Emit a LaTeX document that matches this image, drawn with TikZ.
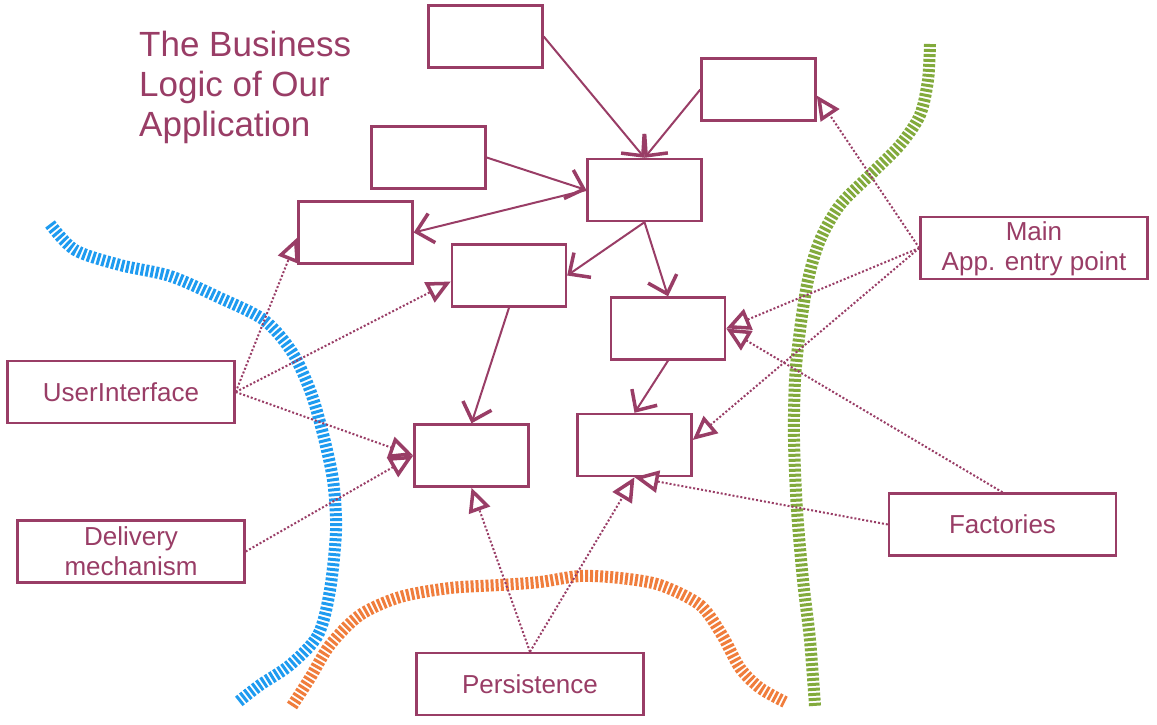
\documentclass[tikz,border=0pt]{standalone}
\usepackage{fontspec}
\setmainfont{Liberation Sans}
\usetikzlibrary{arrows.meta}
\definecolor{logic}{RGB}{153,61,102}
\definecolor{uiblue}{RGB}{30,155,240}
\definecolor{dborange}{RGB}{240,125,60}
\definecolor{maingreen}{RGB}{130,170,60}
\begin{document}
\begin{tikzpicture}[x=1pt,y=-1pt,
  box/.style={draw=logic, line width=2.4pt, minimum width=114pt, minimum height=62pt, inner sep=0pt},
  plugin/.style={box, minimum width=227pt, text=logic, align=center, font=\fontsize{26}{30}\selectfont},
  uses/.style={draw=logic, line width=2pt, -{Straight Barb[length=16pt,width=30pt,line width=3.5pt]}},
  impl/.style={draw=logic, line width=2pt, dash pattern=on 2pt off 2pt, -{Triangle[open,length=24pt,width=22pt,line width=3.5pt,fill=white]}},
  border/.style={line width=12pt, dash pattern=on 3pt off 2pt}]
\useasboundingbox (0,0) rectangle (1157,724);
\fill[white] (0,0) rectangle (1157,724);   % plain page
% the three boundaries
\draw[border, uiblue] plot[smooth] coordinates {(50,224) (75,250) (120,265) (170,276) (218,297) (264,320) (292,352) (310,390) (322,430) (333,480) (336,530) (330,590) (318,635) (290,665) (260,685) (238,702)};
\draw[border, dborange] plot[smooth] coordinates {(292,706) (310,678) (330,645) (360,615) (400,597) (450,588) (500,585) (540,582) (580,576) (620,578) (660,585) (700,605) (722,635) (740,668) (760,688) (785,702)};
\draw[border, maingreen] plot[smooth] coordinates {(930,44) (928,80) (920,115) (900,145) (870,175) (840,205) (820,240) (808,280) (800,330) (795,380) (794,440) (797,510) (803,580) (810,640) (815,706)};
\node[anchor=north west, inner sep=0pt, text=logic, align=left, font=\fontsize{35}{40}\selectfont] (title) at (139,31) {The Business\\Logic of Our\\Application};
% business objects
\node[box] (b1) at (485.5,36.5) {};
\node[box] (b2) at (758.5,89.5) {};
\node[box] (b3) at (428.5,157.5) {};
\node[box] (b4) at (644.5,190) {};
\node[box] (b5) at (355.5,232.5) {};
\node[box] (b6) at (509,275.5) {};
\node[box] (b7) at (668,328.5) {};
\node[box] (b8) at (471.5,455.5) {};
\node[box] (b9) at (634.5,445) {};
% the outside world
\node[plugin] (main) at (1034,248) {\strut Main\\App. entry point};
\node[plugin] (ui) at (121,392) {UserInterface};
\node[plugin] (delivery) at (131,551.5) {Delivery\\mechanism};
\node[plugin] (factories) at (1002.5,524.5) {Factories};
\node[plugin] (persistence) at (530,684) {Persistence};
% dependencies inside
\draw[uses] (b1.east) -- (b4.north);
\draw[uses] (b2.west) -- (b4.north);
\draw[uses] (b3.east) -- (b4.west);
\draw[uses] (b4.west) -- (b5.east);
\draw[uses] (b4.south) -- (b6.east);
\draw[uses] (b4.south) -- (b7.north);
\draw[uses] (b6.south) -- (b8.north);
\draw[uses] (b7.south) -- (b9.north);
% plugins pointing in
\draw[impl] (ui.east) -- ([yshift=-5pt]b5.west);
\draw[impl] (ui.east) -- ([yshift=-6pt]b6.west);
\draw[impl] (ui.east) -- (b8.west);
\draw[impl] (delivery.east) -- (b8.west);
\draw[impl] (main.west) -- ([yshift=-6pt]b2.east);
\draw[impl] (main.west) -- (b7.east);
\draw[impl] (main.west) -- ([yshift=5pt]b9.east);
\draw[impl] (factories.north) -- (b7.east);
\draw[impl] (factories.west) -- (b9.south);
\draw[impl] (persistence.north) -- (b9.south);
\draw[impl] (persistence.north) -- (b8.south);
\end{tikzpicture}
\end{document}
